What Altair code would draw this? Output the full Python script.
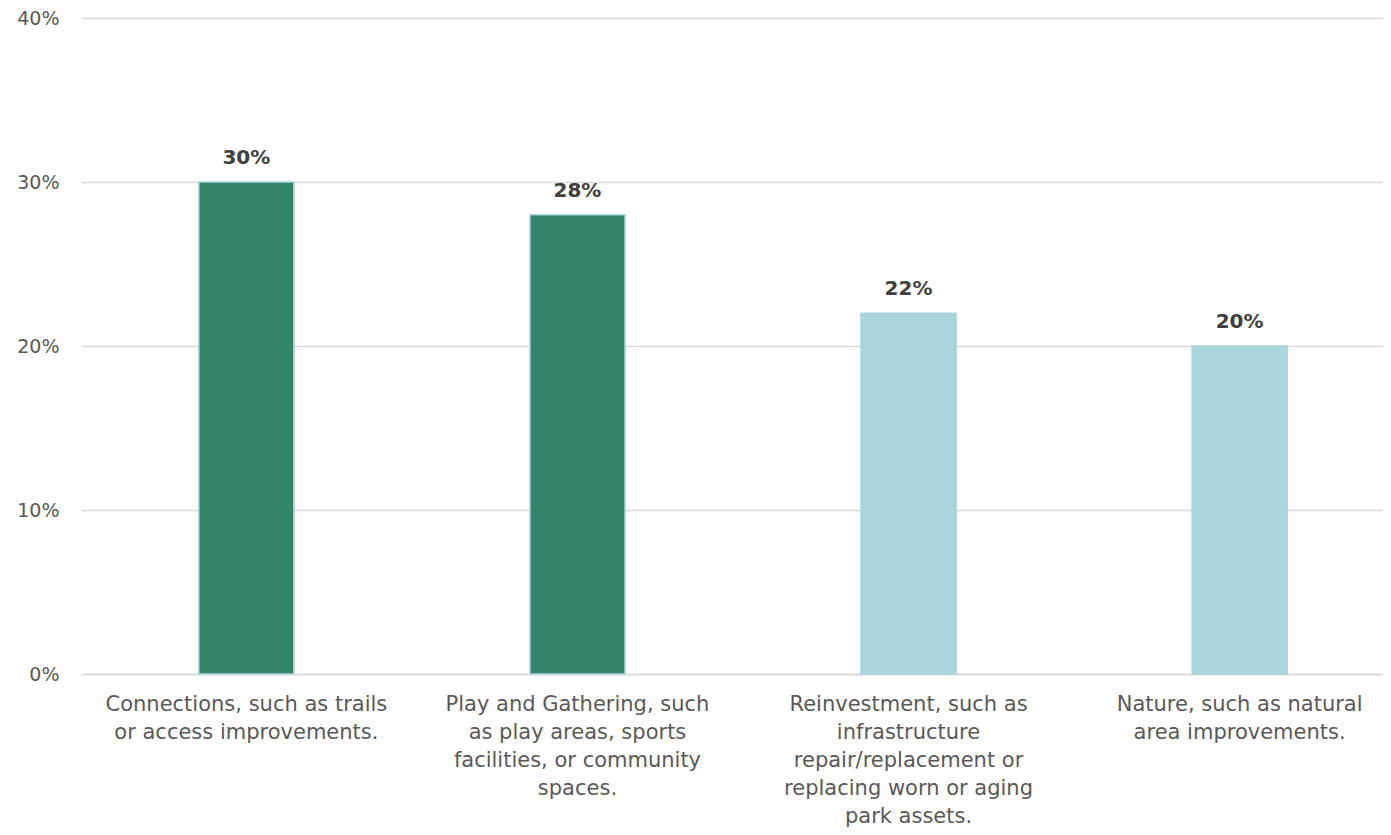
import altair as alt
import pandas as pd

categories = [
    "Connections, such as trails or access improvements.",
    "Play and Gathering, such as play areas, sports facilities, or community spaces.",
    "Reinvestment, such as infrastructure repair/replacement or replacing worn or aging park assets.",
    "Nature, such as natural area improvements.",
]
label_lines = [
    "Connections, such as trails|or access improvements.",
    "Play and Gathering, such|as play areas, sports|facilities, or community|spaces.",
    "Reinvestment, such as|infrastructure|repair/replacement or|replacing worn or aging|park assets.",
    "Nature, such as natural|area improvements.",
]
values = [0.30, 0.28, 0.22, 0.20]
groups = ["top", "top", "other", "other"]

df = pd.DataFrame({"cat": label_lines, "value": values, "group": groups})

FONT = "DejaVu Sans"

x = alt.X(
    "cat:N",
    sort=label_lines,
    title=None,
    scale=alt.Scale(paddingInner=0.713, paddingOuter=0.356, range=[0, 1324]),
    axis=alt.Axis(
        labelExpr="split(datum.label, '|')",
        labelAngle=0,
        labelFont=FONT,
        labelFontSize=21,
        labelColor="#595959",
        labelLineHeight=28,
        labelPadding=19,
        labelLimit=400,
        ticks=False,
        domain=True,
        domainColor="#d9d9d9",
        domainWidth=1.5,
        labelBaseline="top",
        grid=False,
    ),
)

y = alt.Y(
    "value:Q",
    title=None,
    scale=alt.Scale(domain=[0, 0.4]),
    axis=alt.Axis(
        values=[0, 0.1, 0.2, 0.3, 0.4],
        format=".0%",
        labelFont=FONT,
        labelFontSize=19,
        labelColor="#595959",
        labelPadding=22,
        ticks=False,
        domain=False,
        gridColor="#d9d9d9",
        gridWidth=1.5,
    ),
)

bars = alt.Chart(df).mark_bar(stroke="#a9d5dc", strokeWidth=1.5).encode(
    x=x,
    y=y,
    color=alt.Color(
        "group:N",
        scale=alt.Scale(domain=["top", "other"], range=["#338469", "#a9d5dc"]),
        legend=None,
    ),
)

text = alt.Chart(df).mark_text(
    font=FONT, fontSize=20, fontWeight="bold", color="#404040", dy=-18, baseline="alphabetic"
).encode(
    x=alt.X("cat:N", sort=label_lines),
    y=alt.Y("value:Q"),
    text=alt.Text("value:Q", format=".0%"),
)

chart = (
    alt.layer(bars, text)
    .properties(
        width=1302,
        height=656,
        autosize=alt.AutoSizeParams(type="none"),
        padding={"left": 73, "top": 10, "right": 0, "bottom": 153},
    )
    .configure(background="white")
    .configure_view(strokeWidth=0, stroke="transparent")
    .configure_axisY(domain=False)
)

chart.save("out.html", embed_options={"renderer": "svg", "actions": False})
